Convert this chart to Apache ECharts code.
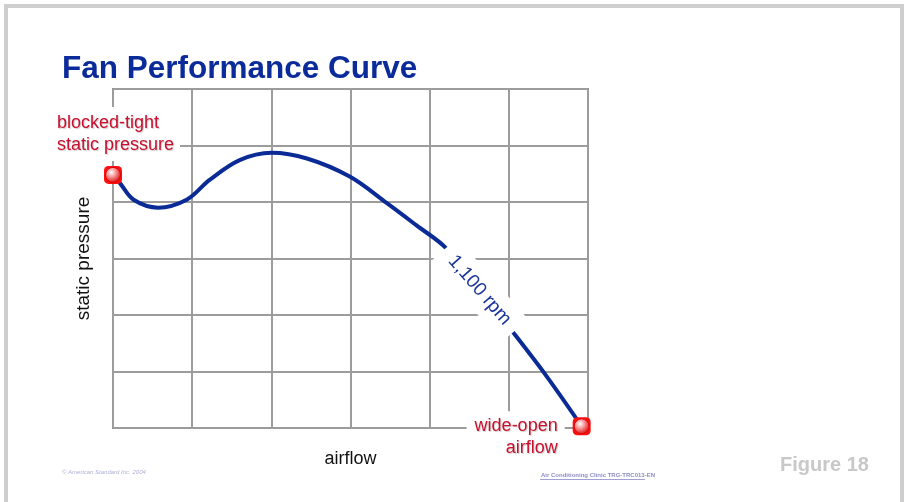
<!DOCTYPE html>
<html lang="en">
<head>
    <meta charset="UTF-8">
    <title>Fan Performance Curve</title>
    <script src="https://cdn.jsdelivr.net/npm/echarts@6/dist/echarts.min.js"></script>
    <style>
        html, body { margin: 0; padding: 0; background: #fff; }
    </style>
</head>
<body>
    <div id="container" style="width: 907px;height: 502px"></div>

    <script>
        // curve (grid units: 6 x 6 cells)
        var airflow = [0, 0.09, 0.26, 0.57, 0.93, 1.22, 1.6, 2.0, 2.45, 2.99, 3.46, 3.83, 4.21, 4.63, 5.05, 5.48, 5.92];
        var pressure = [4.48, 4.33, 4.04, 3.90, 4.04, 4.39, 4.74, 4.87, 4.77, 4.45, 3.98, 3.59, 3.18, 2.44, 1.70, 0.91, 0.03];
        // end points of the curve
        var endPoints = [[0, 4.48], [5.92, 0.03]];
        var endLabels = ['blocked-tight\nstatic pressure', 'wide-open\nairflow'];
        // speed label sits on the curve
        var rpmPoint = [4.63, 2.44];
        var rpmText = '1,100 rpm';

        var curveData = airflow.map(function (x, i) { return [x, pressure[i]]; });

        var red = '#c8102e';
        var shadow = {
            textShadowColor: 'rgba(0,0,0,0.2)',
            textShadowOffsetX: 1,
            textShadowOffsetY: 1,
            textShadowBlur: 1
        };

        var myChart = echarts.init(document.getElementById('container'));

        myChart.setOption({
            backgroundColor: '#fff',
            animation: false,
            title: {
                text: 'Fan Performance Curve',
                left: 57,
                top: 48,
                textStyle: { color: '#0b2b9b', fontSize: 31.5, fontWeight: 'bold', fontFamily: 'Arial' }
            },
            grid: {
                left: 113, right: 319, top: 89, bottom: 74,
                show: true, borderColor: '#8c8c8c', borderWidth: 2
            },
            xAxis: {
                type: 'value', min: 0, max: 6, interval: 1,
                name: 'airflow', nameLocation: 'middle', nameGap: 22,
                nameTextStyle: { color: '#111', fontSize: 18, fontFamily: 'Arial' },
                axisLine: { show: false },
                axisTick: { show: false },
                axisLabel: { show: false },
                splitLine: { lineStyle: { color: '#9c9c9c', width: 2 } }
            },
            yAxis: {
                type: 'value', min: 0, max: 6, interval: 1,
                name: 'static pressure', nameLocation: 'middle', nameGap: 20, nameRotate: 90,
                nameTextStyle: { color: '#111', fontSize: 19, fontFamily: 'Arial' },
                axisLine: { show: false },
                axisTick: { show: false },
                axisLabel: { show: false },
                splitLine: { lineStyle: { color: '#9c9c9c', width: 2 } }
            },
            series: [
                {
                    type: 'line',
                    data: curveData,
                    smooth: 0.35,
                    showSymbol: false,
                    z: 3,
                    lineStyle: { color: '#0a2a96', width: 4 }
                },
                {
                    // speed label with a white box that breaks the curve
                    type: 'scatter',
                    data: [rpmPoint],
                    symbolSize: 0,
                    z: 5,
                    itemStyle: { opacity: 1 },
                    label: {
                        show: true,
                        position: 'inside',
                        formatter: rpmText,
                        rotate: -49,
                        color: '#1a3399',
                        fontSize: 19,
                        fontFamily: 'Arial',
                        backgroundColor: '#fff',
                        padding: [8, 11]
                    }
                },
                {
                    // square behind the end markers, carries the red notes
                    type: 'scatter',
                    data: endPoints.map(function (p, i) {
                        var first = i === 0;
                        return {
                            value: p,
                            label: {
                                show: true,
                                position: 'inside',
                                formatter: endLabels[i],
                                align: first ? 'left' : 'right',
                                verticalAlign: 'middle',
                                offset: first ? [-63, -41] : [-17, 11],
                                padding: first ? [6, 6, 4, 7] : [4, 7, 4, 8]
                            }
                        };
                    }),
                    symbol: 'roundRect',
                    symbolSize: 18,
                    clip: false,
                    z: 6,
                    itemStyle: { color: '#ff1010', opacity: 1 },
                    label: Object.assign({
                        color: red,
                        fontSize: 18,
                        lineHeight: 22,
                        fontFamily: 'Arial',
                        backgroundColor: '#fff'
                    }, shadow)
                },
                {
                    type: 'scatter',
                    data: endPoints,
                    symbol: 'circle',
                    symbolSize: 15,
                    clip: false,
                    z: 7,
                    itemStyle: {
                        opacity: 1,
                        color: {
                            type: 'radial', x: 0.4, y: 0.35, r: 0.7,
                            colorStops: [
                                { offset: 0, color: '#ffffff' },
                                { offset: 0.45, color: '#f78a8a' },
                                { offset: 1, color: '#d60000' }
                            ]
                        },
                        borderColor: '#e00000',
                        borderWidth: 1
                    }
                }
            ],
            graphic: [
                {
                    type: 'rect',
                    shape: { x: 6, y: 6, width: 896, height: 520 },
                    style: { fill: 'none', stroke: '#cfcfcf', lineWidth: 4 },
                    silent: true
                },
                {
                    type: 'text', left: 62, top: 469,
                    style: { text: '\u00a9 American Standard Inc. 2004', fill: '#b0b0d8', fontSize: 6, fontStyle: 'italic', fontFamily: 'Arial' }
                },
                {
                    type: 'text', left: 541, top: 472,
                    style: { text: 'Air Conditioning Clinic TRG-TRC013-EN', fill: '#8d8dc8', fontSize: 6, fontWeight: 'bold', fontFamily: 'Arial' }
                },
                {
                    type: 'line',
                    shape: { x1: 540, y1: 479.5, x2: 645, y2: 479.5 },
                    style: { stroke: '#a0a0d4', lineWidth: 1 }
                },
                {
                    type: 'text', left: 780, top: 455,
                    style: { text: 'Figure 18', fill: '#c8c8c8', fontSize: 20, fontWeight: 'bold', fontFamily: 'Arial' }
                }
            ]
        });
    </script>
</body>
</html>
